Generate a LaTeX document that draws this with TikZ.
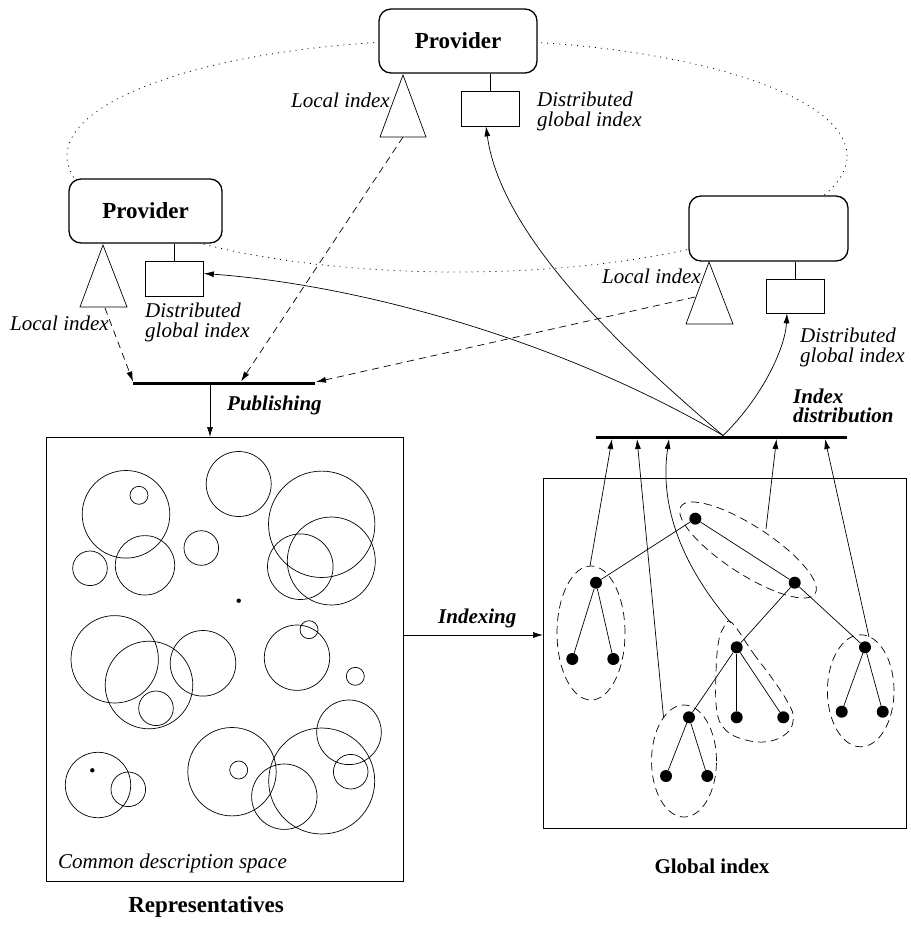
\documentclass[tikz,border=0pt]{standalone}
\usepackage{fontspec}
\setmainfont{Liberation Serif}
\usetikzlibrary{arrows.meta}
\newcommand\provf{\fontsize{23}{27}\selectfont\bfseries}
\newcommand\lblf{\fontsize{21}{20}\selectfont\itshape}
\newcommand\actf{\fontsize{21}{19}\selectfont\bfseries\itshape}
\newcommand\capf{\fontsize{23}{27}\selectfont\bfseries}
\newcommand\capsf{\fontsize{21}{25}\selectfont\bfseries}
\begin{document}
\begin{tikzpicture}[x=1pt,y=-1pt,
 withtip/.style={-{Latex[length=10pt,width=6pt]}},
 ln/.style={line width=0.7pt},
 provbox/.style={draw,line width=1.3pt,rounded corners=12pt,fill=white,inner sep=0,font=\provf},
 dgi/.style={draw,line width=0.7pt,fill=white,inner sep=0,minimum width=58pt,minimum height=35pt},
 dsh/.style={ln,dash pattern=on 7pt off 5pt},
 dotring/.style={line width=0.8pt,dash pattern=on 1pt off 5pt},
 grp/.style={line width=0.7pt,dash pattern=on 8pt off 5pt},
 thickbar/.style={line width=3pt},
 treedot/.style={circle,fill=black,inner sep=0,minimum size=12pt},
 lbl/.style={inner sep=0,font=\lblf},
 act/.style={inner sep=0,font=\actf},
 captxt/.style={inner sep=0,font=\capf},
 boxframe/.style={draw,line width=0.8pt,inner sep=0,anchor=north west},
 cc/.style={ln}]
\useasboundingbox (0,0) rectangle (910,925);

% dotted ring of providers
\draw[dotring] (457,156) ellipse [x radius=390pt, y radius=116pt];

% providers
\node[provbox,minimum width=158pt,minimum height=64pt] (ptop) at (458,41) {Provider};
\node[provbox,minimum width=153pt,minimum height=64pt] (pleft) at (145.5,211) {Provider};
\node[provbox,minimum width=159pt,minimum height=65pt] (pright) at (768.5,228.5) {};

% distributed global index boxes
\node[dgi] (dtop) at (490,108.5) {};
\node[dgi] (dleft) at (174.5,278.5) {};
\node[dgi,minimum height=34pt] (dright) at (795,296) {};
\draw[ln] (dtop.north) -- (dtop.north |- ptop.south);
\draw[ln] (dleft.north) -- (dleft.north |- pleft.south);
\draw[ln] (dright.north) -- (dright.north |- pright.south);

% local index triangles
\draw[ln,fill=white] (403,75) -- (380,137) -- (426,137) -- cycle;
\draw[ln,fill=white] (103,245) -- (80,307) -- (127,307) -- cycle;
\draw[ln,fill=white] (709,262) -- (686,324) -- (733,324) -- cycle;
\coordinate (ttop) at (403,137);
\coordinate (tleft) at (105,308);
\coordinate (tright) at (695,297);

% labels
\node[lbl,anchor=base east] (lt) at (390,108) {Local index};
\node[lbl,anchor=base west] (ll) at (10,330) {Local index};
\node[lbl,anchor=base west] (lr) at (602,283) {Local index};
\node[lbl,anchor=north west,align=left] (gt) at (537,92) {Distributed\\global index};
\node[lbl,anchor=north west,align=left] (gl) at (145,303) {Distributed\\global index};
\node[lbl,anchor=north west,align=left] (gr) at (800,328) {Distributed\\global index};

% publishing bar
\coordinate (pl) at (133,383);
\coordinate (pr) at (315,383);
\draw[thickbar] (pl) -- (pr);
\coordinate (pa1) at (133,381.5);
\coordinate (pa2) at (241,381.5);
\coordinate (pa3) at (316,382);
\draw[dsh,withtip] (tleft) -- (pa1);
\draw[dsh,withtip] (ttop) -- (pa2);
\draw[dsh,withtip] (tright) -- (pa3);
\node[act,anchor=base west] (publab) at (227,410) {Publishing};

% left box
\node[boxframe,minimum width=357pt,minimum height=444pt] (lbox) at (46,437) {};
\coordinate (pubsrc) at (210,384.5);
\draw[ln,withtip] (pubsrc) -- (pubsrc |- lbox.north);
\node[lbl,anchor=base west] (cds) at (58,868) {Common description space};
\node[captxt,anchor=base] (rep) at (206,912) {Representatives};

% circles of the description space
\foreach \cx/\cy/\r in {
 126/514.3/43.8, 139/495.3/9, 238.7/484/32.5, 321.7/524.3/53.2, 331.3/561/44,
 300.3/566.7/32.8, 90/568.3/17.3, 145/565.3/29.7, 201.3/548/17.3,
 114.7/659.3/43.7, 149/685/43.8, 203/663.3/32.8, 156/708.3/17.3,
 297/657.7/32.7, 309/629.7/9, 355.3/676.3/9, 349/732.3/32.3,
 98/785/32.7, 128.3/789.3/17.3, 232/771.7/44.2, 238.7/770/9,
 321.7/781/53, 284.3/796.7/32.7, 350.7/771.7/17.3}
 \draw[cc] (\cx,\cy) circle [radius=\r pt];
\fill (238.7,600.7) circle [radius=2.2pt];
\fill (92.3,770.3) circle [radius=2.2pt];

% right box
\node[boxframe,minimum width=363pt,minimum height=350pt] (rbox) at (543,478) {};
\node[captxt,font=\capsf,anchor=base] (glab) at (712,873) {Global index};

% indexing arrow
\coordinate (ixs) at (403,635);
\draw[ln,withtip] (ixs) -- (ixs -| rbox.west);
\node[act,anchor=base west] (ixlab) at (438,623) {Indexing};

% index distribution bar
\draw[thickbar] (596,437) -- (847,437);
\coordinate (idsrc) at (723,435.5);
\node[act,anchor=north west,align=left] (idlab) at (793,389) {Index\\distribution};
\draw[ln,withtip] (idsrc) .. controls (560,340) and (360,285) .. ([yshift=5pt]dleft.east);
\draw[ln,withtip] (idsrc) .. controls (610,340) and (500,230) .. ([xshift=-4pt]dtop.south);
\draw[ln,withtip] (idsrc) .. controls (760,400) and (785,350) .. ([xshift=-8pt]dright.south);

% tree
\node[treedot] (r) at (695.3,518.7) {};
\node[treedot] (l1) at (596,582.7) {};
\node[treedot] (r1) at (794.7,582.7) {};
\node[treedot] (l1a) at (572.3,659) {};
\node[treedot] (l1b) at (613.3,659) {};
\node[treedot] (m) at (736.7,647.3) {};
\node[treedot] (rr) at (865,647.3) {};
\node[treedot] (ma) at (689,717.3) {};
\node[treedot] (mb) at (736.7,717.3) {};
\node[treedot] (mc) at (783.3,717.3) {};
\node[treedot] (rra) at (841.7,711.7) {};
\node[treedot] (rrb) at (882.7,711.7) {};
\node[treedot] (maa) at (666,776) {};
\node[treedot] (mab) at (707.3,776) {};
\foreach \a/\b in {r/l1, r/r1, l1/l1a, l1/l1b, r1/m, r1/rr, m/ma, m/mb, m/mc, rr/rra, rr/rrb, ma/maa, ma/mab}
 \draw[ln] (\a) -- (\b);

% groups
\draw[grp] (591,633) ellipse [x radius=34pt, y radius=67pt];
\draw[grp] (684,761) ellipse [x radius=32.5pt, y radius=56pt];
\draw[grp] (860.7,690.8) ellipse [x radius=33.3pt, y radius=56pt];
\draw[grp, rotate around={-33:(748,550)}] (748,550) ellipse [x radius=80pt, y radius=24pt];
\draw[grp] plot[smooth cycle, tension=0.7] coordinates {
 (731.7,622.7) (753.3,653.3) (773.3,680) (788.3,703.3) (793.3,718.3)
 (786.7,733.3) (766.7,741.7) (743.3,739.3) (725,729.3) (716.7,710)
 (716,673.3) (718.3,643.3) (723.3,628.3)};

% arrows from groups to the distribution bar
\coordinate (ga) at (590,566);
\coordinate (gb) at (663.5,717);
\coordinate (gc) at (731,623);
\coordinate (gd) at (766,529);
\coordinate (ge) at (869,637);
\coordinate (ta) at (612,439);
\coordinate (tb) at (637,439);
\coordinate (tc) at (669,439);
\coordinate (td) at (776.5,439);
\coordinate (te) at (825,439);
\draw[ln,withtip] (ga) -- (ta);
\draw[ln,withtip] (gb) -- (tb);
\draw[ln,withtip] (gc) .. controls (690,575) and (658,515) .. (tc);
\draw[ln,withtip] (gd) -- (td);
\draw[ln,withtip] (ge) -- (te);
\end{tikzpicture}
\end{document}
